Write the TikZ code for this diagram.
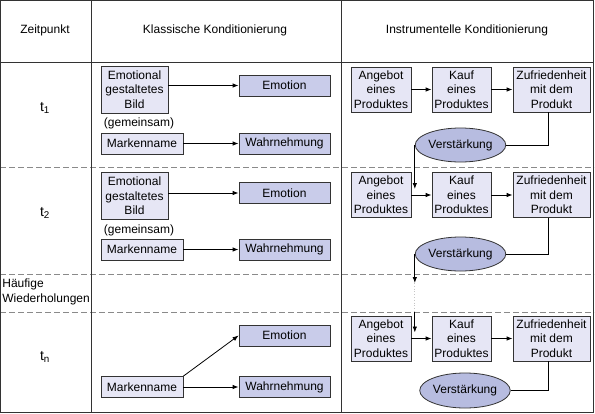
\documentclass[tikz,border=0pt]{standalone}
\usepackage{fontspec}
\setmainfont{Liberation Sans}
\usetikzlibrary{arrows.meta,positioning,shapes.geometric}
\definecolor{lilac}{HTML}{E6E6F5}
\definecolor{periwinkle}{HTML}{C9CCEA}
\definecolor{bluegrey}{HTML}{B7BCE0}
\definecolor{graphite}{HTML}{333333}
\definecolor{ashgrey}{HTML}{8A8A8A}

\begin{document}
\begin{tikzpicture}[x=1pt,y=-1pt,font=\fontsize{12}{14.5}\selectfont,line width=0.8pt,
    >={Latex[length=6pt,width=4.5pt]},
    cuebox/.style={draw=graphite,fill=lilac,align=center,inner sep=1pt,minimum height=21pt},
    respbox/.style={draw=graphite,fill=periwinkle,minimum width=91pt,minimum height=21pt,inner sep=1pt},
    stepbox/.style={draw=graphite,fill=lilac,align=center,inner sep=1pt,minimum height=45pt},
    reinf/.style={draw=graphite,fill=bluegrey,ellipse,inner sep=0pt,minimum width=87pt,minimum height=34pt},
    rowline/.style={ashgrey,dash pattern=on 6pt off 3pt},
    tlabel/.style={font=\fontsize{14}{16}\selectfont}]
  \useasboundingbox (0,0) rectangle (595,413);
  % table frame
  \draw[rowline] (0,167) -- (594,167);
  \draw[rowline] (0,274) -- (594,274);
  \draw[rowline] (0,312) -- (594,312);
  \draw[graphite] (0.5,0.5) rectangle (593.5,412.5);
  \draw[graphite] (0,62) -- (594,62);
  \draw[graphite] (91,0) -- (91,413);
  \draw[graphite] (341,0) -- (341,413);

  % header
  \node (hzeit) at (45,30) {Zeitpunkt};
  \node (hklass) at (215,30) {Klassische Konditionierung};
  \node (hinstr) at (467,30) {Instrumentelle Konditionierung};

  % time points
  \node[tlabel] (zt1) at (45,108) {t\textsubscript{1}};
  \node[tlabel] (zt2) at (45,213) {t\textsubscript{2}};
  \node[align=left,anchor=west,inner sep=0pt] (zwdh) at (2,292) {Häufige\\Wiederholungen};
  \node[tlabel] (ztn) at (45,357) {t\textsubscript{n}};

  % classical conditioning
  \node[cuebox,minimum width=67pt,minimum height=47pt] (bild1) at (134.5,89.5) {Emotional\\gestaltetes\\Bild};
  \node[respbox] (emo1) at (284.5,85.5) {Emotion};
  \node (gem1) at (139,123) {(gemeinsam)};
  \node[cuebox,minimum width=82pt] (marke1) at (142,143.5) {Markenname};
  \node[respbox] (wahr1) at (284.5,143.5) {Wahrnehmung};
  \draw[->] (bild1.east |- emo1.west) -- (emo1.west);
  \draw[->] (marke1.east) -- (wahr1.west);

  \node[cuebox,minimum width=67pt,minimum height=47pt] (bild2) at (134.5,196) {Emotional\\gestaltetes\\Bild};
  \node[respbox] (emo2) at (284.5,193) {Emotion};
  \node (gem2) at (139,230) {(gemeinsam)};
  \node[cuebox,minimum width=82pt] (marke2) at (142,249.5) {Markenname};
  \node[respbox] (wahr2) at (284.5,249.5) {Wahrnehmung};
  \draw[->] (bild2.east |- emo2.west) -- (emo2.west);
  \draw[->] (marke2.east) -- (wahr2.west);

  \node[respbox] (emo3) at (284.5,335.5) {Emotion};
  \node[cuebox,minimum width=82pt] (marke3) at (142,387) {Markenname};
  \node[respbox] (wahr3) at (284.5,387) {Wahrnehmung};
  \draw[->] (marke3.north east) -- (emo3.west);
  \draw[->] (marke3.east) -- (wahr3.west);

  % instrumental conditioning
  \node[stepbox,minimum width=60pt] (ang1) at (381,89.5) {Angebot\\eines\\Produktes};
  \node[stepbox,minimum width=59pt] (kauf1) at (461.5,89.5) {Kauf\\eines\\Produktes};
  \node[stepbox,minimum width=77pt] (zuf1) at (551.5,89.5) {Zufriedenheit\\mit dem\\Produkt};
  \node[reinf] (vst1) at (460.5,145) {Verstärkung};
  \draw[->] (ang1) -- (kauf1);
  \draw[->] (kauf1) -- (zuf1);
  \draw (zuf1.south -| 548,0) |- (vst1.east);

  \node[stepbox,minimum width=60pt] (ang2) at (381,195) {Angebot\\eines\\Produktes};
  \node[stepbox,minimum width=59pt] (kauf2) at (461.5,195) {Kauf\\eines\\Produktes};
  \node[stepbox,minimum width=77pt] (zuf2) at (551.5,195) {Zufriedenheit\\mit dem\\Produkt};
  \node[reinf] (vst2) at (460.5,254) {Verstärkung};
  \draw[->] (ang2) -- (kauf2);
  \draw[->] (kauf2) -- (zuf2);
  \draw (zuf2.south -| 548,0) |- (vst2.east);
  \draw[->,shorten >=6pt] (vst1.west) -- (vst1.west |- ang2.east);

  \node[stepbox,minimum width=60pt] (ang3) at (381,338.5) {Angebot\\eines\\Produktes};
  \node[stepbox,minimum width=59pt] (kauf3) at (461.5,338.5) {Kauf\\eines\\Produktes};
  \node[stepbox,minimum width=77pt] (zuf3) at (551.5,338.5) {Zufriedenheit\\mit dem\\Produkt};
  \node[reinf,minimum width=86pt,minimum height=35pt] (vst3) at (465,390.5) {Verstärkung};
  \draw[->] (ang3) -- (kauf3);
  \draw[->] (kauf3) -- (zuf3);
  \draw (zuf3.south -| 548,0) |- (vst3.east);

  % repetition gap
  \draw[->] (vst2.west) -- (vst2.west |- 0,283) coordinate (gapA);
  \draw[ashgrey!50,dotted] (gapA) -- (gapA |- 0,312) coordinate (gapB);
  \draw[->,shorten >=6pt] (gapB) -- (gapB |- ang3.east);
\end{tikzpicture}
\end{document}
